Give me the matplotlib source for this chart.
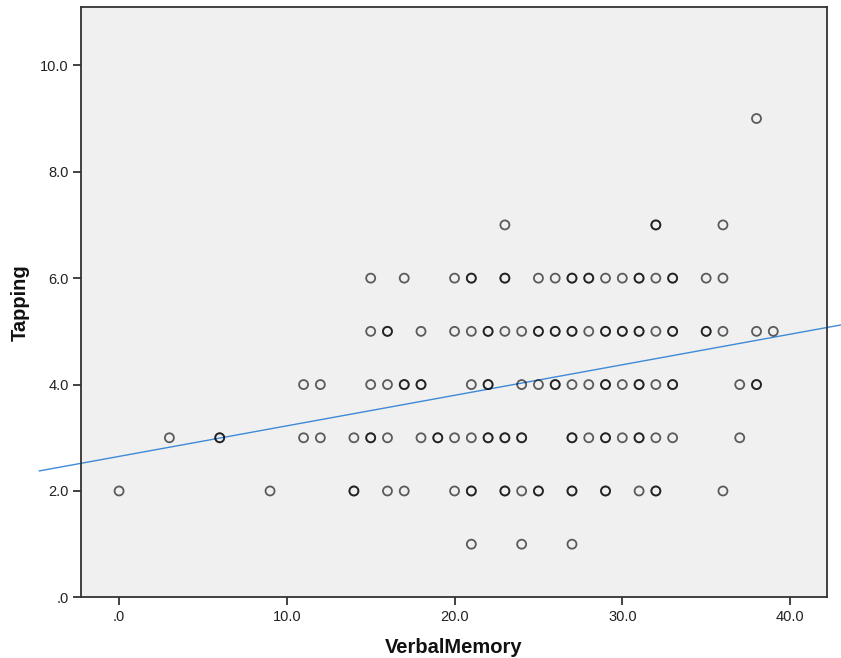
import matplotlib
matplotlib.use("Agg")
import matplotlib.pyplot as plt
import numpy as np

# ---- data (x = VerbalMemory, one entry per point; repeated = overlapping) ----
tap1 = [21, 24, 27]
tap2 = [0, 9, 14, 14, 16, 17, 20, 21, 21, 23, 23, 24, 25, 25, 27, 27, 29, 29, 31, 32, 32, 36]
tap3 = [3, 6, 6, 11, 12, 14, 15, 15, 16, 18, 19, 19, 20, 21, 22, 22, 23, 23, 24, 24,
        27, 27, 28, 29, 29, 30, 31, 31, 32, 33, 37]
tap4 = [11, 12, 15, 16, 17, 17, 18, 18, 21, 22, 22, 24, 25, 26, 26, 27, 28, 29, 29,
        30, 31, 31, 32, 33, 33, 37, 38, 38]
tap5 = [15, 16, 16, 18, 20, 21, 22, 22, 23, 24, 25, 25, 26, 26, 27, 27, 28, 29, 29,
        30, 30, 31, 31, 32, 33, 33, 35, 35, 36, 38, 39]
tap6 = [15, 17, 20, 21, 21, 23, 23, 25, 26, 27, 27, 28, 28, 29, 30, 31, 31, 32, 33, 33, 35, 36]
tap7 = [23, 32, 32, 36]
tap9 = [38]

rows = {1: tap1, 2: tap2, 3: tap3, 4: tap4, 5: tap5, 6: tap6, 7: tap7, 9: tap9}

# fit line
fit_intercept = 2.65
fit_slope = 0.0574
fit_x_range = [-4.75, 44.0]

xticks = [0, 10, 20, 30, 40]
xticklabels = [".0", "10.0", "20.0", "30.0", "40.0"]
yticks = [0, 2, 4, 6, 8, 10]
yticklabels = [".0", "2.0", "4.0", "6.0", "8.0", "10.0"]

x_label = "VerbalMemory"
y_label = "Tapping"

# ---- build arrays ----
xs = np.concatenate([np.array(v, dtype=float) for v in rows.values()])
ys = np.concatenate([np.full(len(v), float(k)) for k, v in rows.items()])

fig = plt.figure(figsize=(8.41, 6.58), dpi=100)
ax = fig.add_axes([0.0969, 0.0921, 0.8862, 0.8968])
ax.set_facecolor("#F0F0F0")

ax.scatter(xs, ys, s=42, facecolors="none", edgecolors=(0, 0, 0, 0.62),
           linewidths=1.3, zorder=3)

fx = np.array(fit_x_range)
ax.plot(fx, fit_intercept + fit_slope * fx, color="#3F8AD6", linewidth=1.0,
        clip_on=False, zorder=2)

ax.set_xlim(-2.24, 42.19)
ax.set_ylim(0, 11.09)

ax.set_xticks(xticks)
ax.set_xticklabels(xticklabels)
ax.set_yticks(yticks)
ax.set_yticklabels(yticklabels)

font = ["Liberation Sans", "DejaVu Sans"]
for lab in ax.get_xticklabels() + ax.get_yticklabels():
    lab.set_family(font)
    lab.set_fontsize(10.5)
    lab.set_color("#222222")

ax.tick_params(axis="both", length=6, width=1.3, color="#333333", pad=3)

for sp in ax.spines.values():
    sp.set_color("#333333")
    sp.set_linewidth(1.3)

ax.set_xlabel(x_label, fontsize=14.5, fontweight="bold",
              family=["Liberation Sans", "DejaVu Sans"],
              labelpad=10, color="#111111")
ax.set_ylabel(y_label, fontsize=14.5, fontweight="bold",
              family=["Liberation Sans", "DejaVu Sans"],
              labelpad=8, color="#111111")

fig.savefig("out.png", dpi=100)
